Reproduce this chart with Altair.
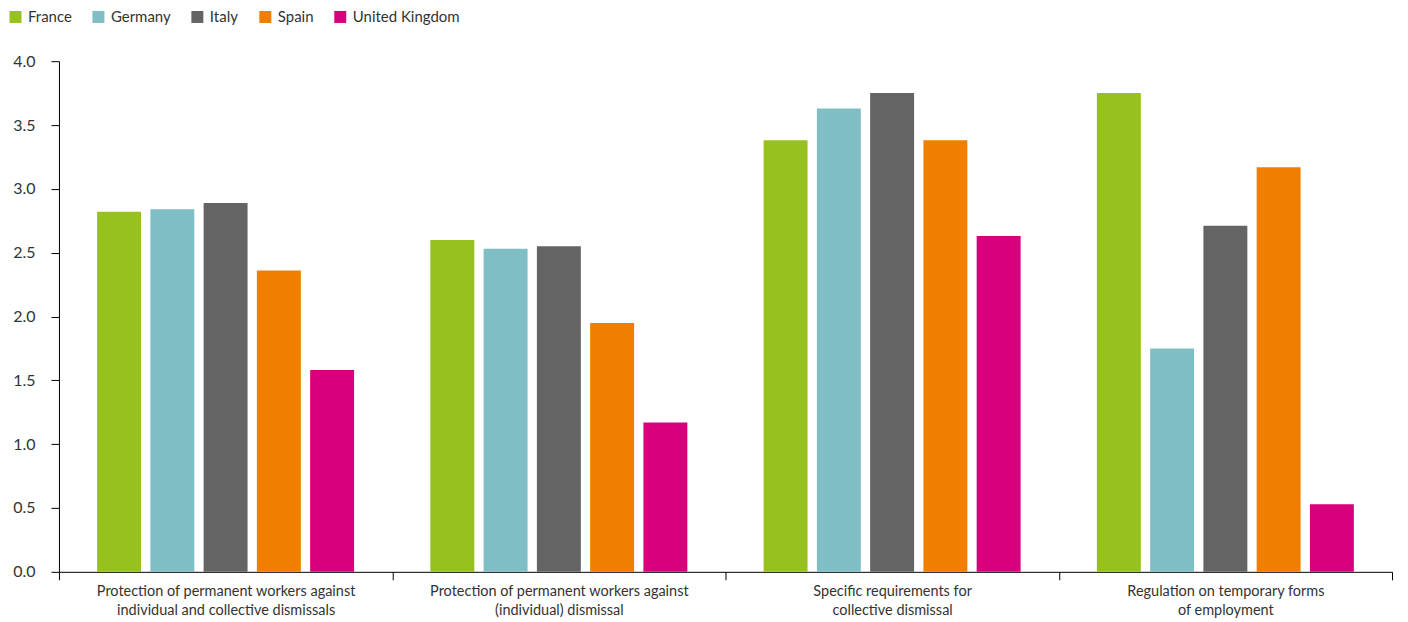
import altair as alt
import pandas as pd

categories = [
    "Protection of permanent workers against|individual and collective dismissals",
    "Protection of permanent workers against|(individual) dismissal",
    "Specific requirements for|collective dismissal",
    "Regulation on temporary forms|of employment",
]
countries = ["France", "Germany", "Italy", "Spain", "United Kingdom"]
france = [2.82, 2.60, 3.38, 3.75]
germany = [2.84, 2.53, 3.63, 1.75]
italy = [2.89, 2.55, 3.75, 2.71]
spain = [2.36, 1.95, 3.38, 3.17]
united_kingdom = [1.58, 1.17, 2.63, 0.53]
colors = ["#97C11F", "#80BEC5", "#646464", "#F07E00", "#D9007E"]
y_ticks = [0.0, 0.5, 1.0, 1.5, 2.0, 2.5, 3.0, 3.5, 4.0]

series = [france, germany, italy, spain, united_kingdom]
rows = []
for ci, cat in enumerate(categories):
    for k, country in enumerate(countries):
        rows.append({"category": cat, "country": country, "value": series[k][ci]})
df = pd.DataFrame(rows)

FONT = "Lato"
TXT = "#333333"

chart = (
    alt.Chart(df)
    .mark_bar()
    .encode(
        x=alt.X(
            "category:N",
            sort=categories,
            scale=alt.Scale(paddingInner=0, paddingOuter=0),
            axis=alt.Axis(
                title=None,
                labelAngle=0,
                labelExpr="split(datum.label, '|')",
                labelLimit=0,
                tickBand="extent",
                domainColor="black",
                tickColor="black",
                tickSize=8,
                labelPadding=5,
                labelFontSize=14.5,
                labelColor=TXT,
                labelFont=FONT,
                labelLineHeight=19,
            ),
        ),
        xOffset=alt.XOffset(
            "country:N",
            sort=countries,
            scale=alt.Scale(paddingInner=0.175, paddingOuter=0.716),
        ),
        y=alt.Y(
            "value:Q",
            scale=alt.Scale(domain=[0, 4]),
            axis=alt.Axis(
                title=None,
                values=y_ticks,
                format=".1f",
                grid=False,
                domainColor="black",
                tickColor="black",
                tickSize=8,
                labelPadding=16,
                labelFontSize=16,
                labelColor=TXT,
                labelFont=FONT,
            ),
        ),
        color=alt.Color(
            "country:N",
            sort=countries,
            scale=alt.Scale(domain=countries, range=colors),
            legend=alt.Legend(
                title=None,
                orient="none",
                direction="horizontal",
                columns=5,
                legendX=-51,
                legendY=-52,
                symbolType="square",
                symbolSize=144,
                symbolStrokeWidth=0,
                labelOffset=5,
                labelLimit=0,
                columnPadding=19,
                labelFontSize=15,
                labelColor=TXT,
                labelFont=FONT,
            ),
        ),
    )
    .properties(width=1334, height=511, padding={"left": 0, "top": 1, "right": 7, "bottom": 0})
    .configure_view(stroke=None)
)

chart.save("out.html", embed_options={"renderer": "svg", "actions": False})
